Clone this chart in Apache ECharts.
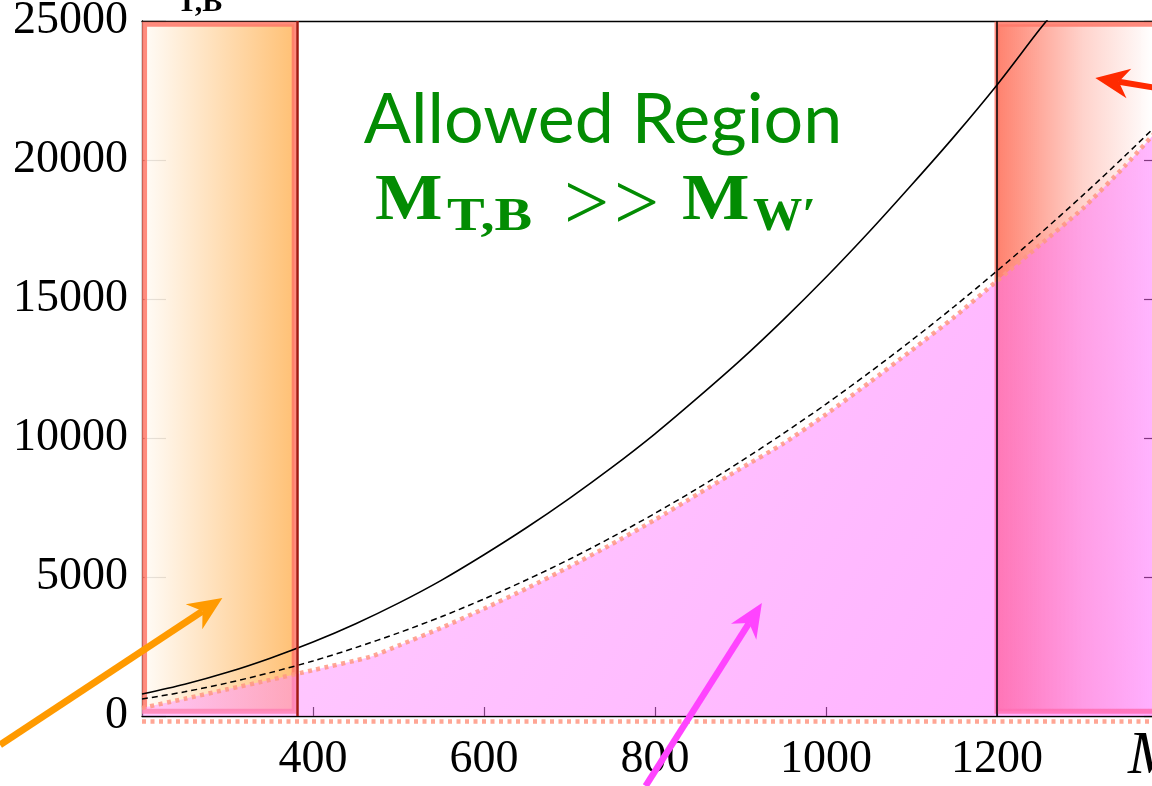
<!DOCTYPE html>
<html><head><meta charset="utf-8">
<script src="https://cdn.jsdelivr.net/npm/echarts@6/dist/echarts.min.js"></script>
<style>html,body{margin:0;padding:0;background:#fff}#c{width:1152px;height:786px}</style>
</head><body><div id="c"></div>
<script>
// ---- data ----
const xRange = [200, 1400];
const xInterval = 200;
const yRange = [0, 25000];
const yInterval = 5000;

const solidM = [200, 250, 300, 350, 400, 450, 500, 550, 600, 650, 700, 750, 800, 850, 900, 950, 1000, 1050, 1100, 1150, 1200, 1250, 1270];
const solidV = [790, 1140, 1570, 2080, 2660, 3320, 4060, 4880, 5800, 6780, 7830, 8950, 10150, 11450, 12800, 14250, 15780, 17400, 19100, 20850, 22700, 24700, 25450];

const dashedM = [200, 250, 300, 350, 400, 450, 500, 550, 600, 650, 700, 750, 800, 850, 900, 950, 1000, 1050, 1100, 1150, 1200, 1250, 1300, 1350, 1400];
const dashedV = [610, 870, 1190, 1560, 1980, 2460, 2990, 3570, 4210, 4900, 5640, 6440, 7290, 8190, 9150, 10160, 11220, 12340, 13510, 14730, 16010, 17340, 18720, 20160, 21650];

const dottedM = [200, 250, 300, 350, 400, 467, 500, 550, 600, 650, 700, 750, 800, 850, 900, 950, 1000, 1050, 1100, 1150, 1200, 1250, 1300, 1350, 1400];
const dottedV = [290, 620, 960, 1300, 1650, 2130, 2530, 3170, 3860, 4590, 5370, 6190, 7060, 7980, 8900, 9800, 10850, 11980, 13150, 14350, 15650, 16940, 18250, 19800, 21500];

const floorLineM = [200, 1400];
const floorLineV = [-200, -200];

const orangeBandX = [203, 378];
const redBandX = [1200, 1400];
const bandY = [170, 24880];
const orangeEdgeX = 381;
const redEdgeX = 1200;

const arrowOrange = {from: [34, -1040], to: [294, 4245]};
const arrowMagenta = {from: [789, -2518], to: [925, 4065]};
const arrowRed = {from: [1437, 22340], to: [1315, 22950]};

const textLine1 = 'Allowed Region';

// ---- chart ----
const chart = echarts.init(document.getElementById('c'), null, {renderer: 'canvas'});
const serif = 'Liberation Serif';
const pts = (m, v) => m.map((x, i) => [x, v[i]]);
const axisLineStyle = {color: '#000', width: 1.3};
const plain = (v) => String(v);

const option = {
  animation: false,
  grid: {left: 142, top: 21, width: 1026, height: 695, outerBoundsMode: 'none', containLabel: false},
  xAxis: [
    {type: 'value', min: xRange[0], max: xRange[1], interval: xInterval,
     axisLine: {show: true, onZero: false, lineStyle: axisLineStyle},
     axisTick: {show: true, inside: true, length: 9, lineStyle: {color: '#000', width: 1.2}},
     axisLabel: {fontFamily: serif, fontSize: 46, color: '#000', margin: 21, showMinLabel: false, showMaxLabel: false, formatter: plain},
     splitLine: {show: false}},
    {type: 'value', position: 'top', min: xRange[0], max: xRange[1], interval: xInterval,
     axisLine: {show: true, onZero: false, lineStyle: axisLineStyle},
     axisTick: {show: false}, axisLabel: {show: false}, splitLine: {show: false}}
  ],
  yAxis: [
    {type: 'value', min: yRange[0], max: yRange[1], interval: yInterval,
     axisLine: {show: true, onZero: false, lineStyle: axisLineStyle},
     axisTick: {show: true, inside: true, length: 24, lineStyle: {color: '#000', width: 1.2}},
     axisLabel: {fontFamily: serif, fontSize: 46, color: '#000', margin: 14, formatter: plain},
     splitLine: {show: false}},
    {type: 'value', position: 'right', min: yRange[0], max: yRange[1], interval: yInterval,
     axisLine: {show: true, onZero: false, lineStyle: axisLineStyle},
     axisTick: {show: true, inside: true, length: 24, lineStyle: {color: '#000', width: 1.2}},
     axisLabel: {show: false}, splitLine: {show: false}}
  ],
  series: [
    {name: 'solid', type: 'line', data: pts(solidM, solidV), smooth: 0.3, symbol: 'none', z: 1,
     lineStyle: {color: '#000', width: 1.6}},
    {name: 'dashed', type: 'line', data: pts(dashedM, dashedV), smooth: 0.3, symbol: 'none', z: 1,
     lineStyle: {color: '#000', width: 1.5, type: [6, 4]}},
    {name: 'bands', type: 'line', data: [], z: 2, symbol: 'none',
     markArea: {silent: true, data: [
       [{xAxis: orangeBandX[0], yAxis: bandY[0], itemStyle: {
          color: {type: 'linear', x: 0, y: 0, x2: 1, y2: 0, colorStops: [
            {offset: 0, color: 'rgba(255,252,248,0.9)'}, {offset: 1, color: 'rgba(255,185,100,0.9)'}]},
          borderColor: 'rgba(255,120,105,0.85)', borderWidth: 5}},
        {xAxis: orangeBandX[1], yAxis: bandY[1]}],
       [{xAxis: redBandX[0], yAxis: bandY[0], itemStyle: {
          color: {type: 'linear', x: 0, y: 0, x2: 1, y2: 0, colorStops: [
            {offset: 0, color: 'rgba(255,95,70,0.8)'}, {offset: 0.5, color: 'rgba(255,95,70,0.28)'}, {offset: 0.9, color: 'rgba(255,95,70,0.0)'}]},
          borderColor: 'rgba(255,120,105,0.85)', borderWidth: 5}},
        {xAxis: redBandX[1], yAxis: bandY[1]}]
     ]},
     markLine: {silent: true, symbol: 'none', label: {show: false}, data: [
       {xAxis: orangeEdgeX, lineStyle: {color: '#a01a10', width: 2.5, type: 'solid'}},
       {xAxis: redEdgeX, lineStyle: {color: '#000', width: 1.5, type: 'solid'}}
     ]}},
    {name: 'excluded', type: 'line', data: pts(dottedM, dottedV), smooth: 0.2, symbol: 'none', z: 3,
     lineStyle: {width: 0},
     areaStyle: {opacity: 1, color: {type: 'linear', x: 0, y: 0, x2: 1, y2: 1, colorStops: [
       {offset: 0, color: 'rgba(255,165,255,0.5)'}, {offset: 1, color: 'rgba(255,95,255,0.5)'}]}}},
    {name: 'dotted', type: 'line', data: pts(dottedM, dottedV), smooth: 0.2, symbol: 'none', z: 4,
     lineStyle: {color: 'rgba(255,150,130,0.85)', width: 4.5, type: [4, 4.5]}},
    {name: 'floor', type: 'line', data: pts(floorLineM, floorLineV), clip: false, symbol: 'none', z: 4,
     lineStyle: {color: 'rgba(255,150,130,0.85)', width: 4.5, type: [4, 4.5]}}
  ]
};
chart.setOption(option);

function arrow(a, color, shaftW, headL, headW) {
  const p0 = chart.convertToPixel({seriesIndex: 0}, a.from);
  const p1 = chart.convertToPixel({seriesIndex: 0}, a.to);
  const dx = p1[0] - p0[0], dy = p1[1] - p0[1], L = Math.hypot(dx, dy);
  const ux = dx / L, uy = dy / L, nx = -uy, ny = ux;
  const bx = p1[0] - ux * headL, by = p1[1] - uy * headL;
  const nb = [bx + ux * headL * 0.3, by + uy * headL * 0.3];
  return [
    {type: 'line', z: 100, shape: {x1: p0[0], y1: p0[1], x2: nb[0], y2: nb[1]}, style: {stroke: color, lineWidth: shaftW}},
    {type: 'polygon', z: 101, shape: {points: [[p1[0], p1[1]], [bx + nx * headW, by + ny * headW], nb, [bx - nx * headW, by - ny * headW]]},
     style: {fill: color}}
  ];
}

const green = '#038c03';
const g = [];
g.push(...arrow(arrowOrange, '#ff9a00', 7, 34, 15));
g.push(...arrow(arrowMagenta, '#ff44ff', 6.5, 34, 15));
g.push(...arrow(arrowRed, '#ff2a00', 6, 34, 15));
g.push({type: 'text', z: 110, style: {text: textLine1, x: 603, y: 120, align: 'center', verticalAlign: 'middle',
  font: '70px Lato', fill: green}});
const bold = (s) => 'bold ' + s + 'px "Liberation Serif"';
function t(txt, x, y, font, sx, color) {
  return {type: 'text', z: 110, x: x, y: y, scaleX: sx, style: {text: txt, x: 0, y: 0, verticalAlign: 'middle', font: font, fill: color}};
}
g.push(t('M', 375, 202, bold(65), 1.1, green));
g.push(t('T,B', 447, 218, bold(47), 1.2, green));
g.push(t('>', 564, 208, '80px "Liberation Serif"', 1, green));
g.push(t('>', 614, 208, '80px "Liberation Serif"', 1, green));
g.push(t('M', 682, 202, bold(65), 1.1, green));
g.push(t('W\u2032', 753, 218, bold(47), 1.05, green));
g.push({type: 'text', z: 110, style: {text: 'T,B', x: 177, y: 18, verticalAlign: 'bottom', font: bold(30), fill: '#000'}});
g.push({type: 'text', z: 110, style: {text: 'M', x: 1128, y: 757, verticalAlign: 'middle', font: 'italic 62px "Liberation Serif"', fill: '#000'}});
chart.setOption({graphic: g});
</script></body></html>
